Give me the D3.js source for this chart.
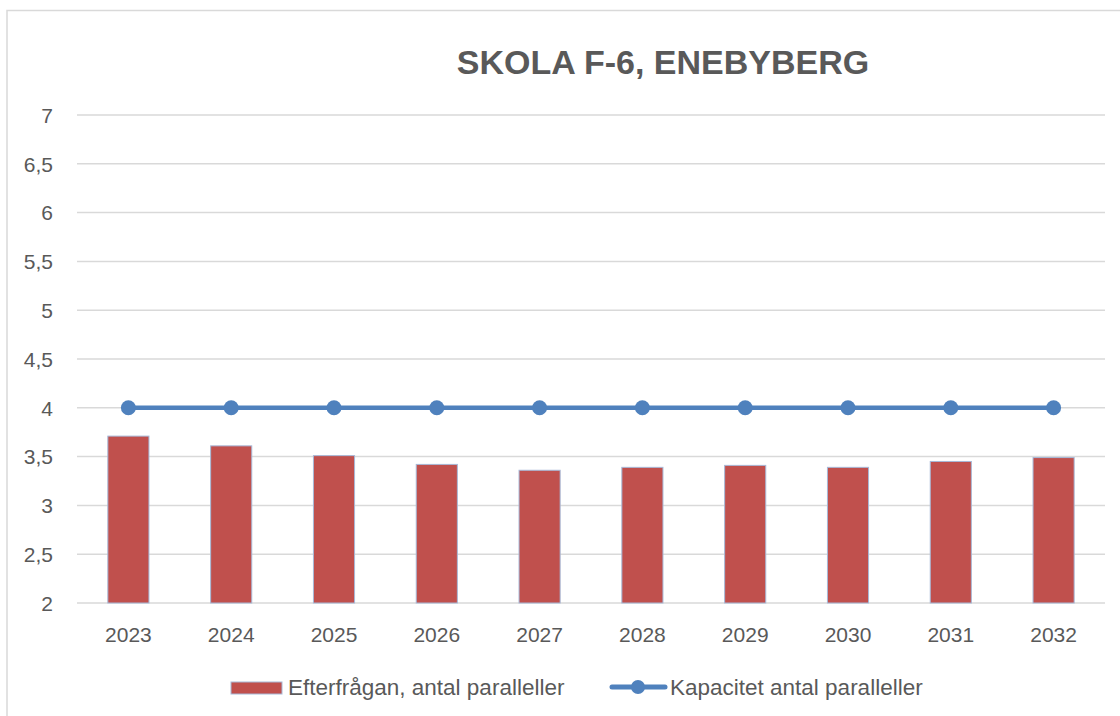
<!DOCTYPE html>
<html>
<head>
<meta charset="utf-8">
<script src="https://cdn.jsdelivr.net/npm/d3@7"></script>
<style>
  body { margin: 0; background: #fff; }
  svg text { font-family: "Liberation Sans", Arial, sans-serif; fill: #595959; }
</style>
</head>
<body>
<div id="chart"></div>
<script>
// data
var years = ["2023", "2024", "2025", "2026", "2027", "2028", "2029", "2030", "2031", "2032"];
var demand = [3.71, 3.61, 3.51, 3.42, 3.36, 3.39, 3.41, 3.39, 3.45, 3.49];
var capacity = [4, 4, 4, 4, 4, 4, 4, 4, 4, 4];
var yTicks = [2, 2.5, 3, 3.5, 4, 4.5, 5, 5.5, 6, 6.5, 7];
var seriesNames = ["Efterfrågan, antal paralleller", "Kapacitet antal paralleller"];
var title = "SKOLA F-6, ENEBYBERG";

var width = 1120, height = 716;
var plotLeft = 77, plotRight = 1105, plotTop = 115, plotBottom = 603;

var svg = d3.select("#chart").append("svg")
    .attr("width", width)
    .attr("height", height);

// frame
svg.append("path")
   .attr("d", "M7,716V10.5H1120")
   .attr("fill", "none")
   .attr("stroke", "#d9d9d9")
   .attr("stroke-width", 1.5);

var x = d3.scaleBand()
          .domain(years)
          .range([plotLeft, plotRight])
          .paddingInner(0.6)
          .paddingOuter(0.3);

var y = d3.scaleLinear()
          .domain([2, 7])
          .range([plotBottom, plotTop]);

// gridlines
svg.append("g").selectAll("line")
   .data(yTicks)
   .enter()
   .append("line")
   .attr("x1", plotLeft).attr("x2", plotRight)
   .attr("y1", function(d) { return y(d); })
   .attr("y2", function(d) { return y(d); })
   .attr("stroke", "#d9d9d9")
   .attr("stroke-width", 1.5);

// y axis labels
var yAxis = d3.axisLeft(y)
              .tickValues(yTicks)
              .tickSize(0)
              .tickPadding(0)
              .tickFormat(function(d) { return String(d).replace(".", ","); });
var gy = svg.append("g").attr("transform", "translate(53,0)").call(yAxis);
gy.select(".domain").remove();
gy.selectAll("text").attr("font-size", 21).attr("dy", "0.35em").attr("fill", "#595959")
  .attr("font-family", "Liberation Sans, Arial, sans-serif");

// x axis labels
var xAxis = d3.axisBottom(x).tickSize(0).tickPadding(0);
var gx = svg.append("g").attr("transform", "translate(0,642)").call(xAxis);
gx.select(".domain").remove();
gx.selectAll("text").attr("font-size", 21).attr("dy", 0).attr("fill", "#595959")
  .attr("font-family", "Liberation Sans, Arial, sans-serif");

// bars
svg.append("g").selectAll("rect")
   .data(demand)
   .enter()
   .append("rect")
   .attr("x", function(d, i) { return x(years[i]); })
   .attr("y", function(d) { return y(d); })
   .attr("width", x.bandwidth())
   .attr("height", function(d) { return y(2) - y(d); })
   .attr("fill", "#c0504d")
   .attr("stroke", "#a7b9d8")
   .attr("stroke-width", 1);

// capacity line
var line = d3.line()
             .x(function(d, i) { return x(years[i]) + x.bandwidth() / 2; })
             .y(function(d) { return y(d); });

svg.append("path")
   .datum(capacity)
   .attr("d", line)
   .attr("fill", "none")
   .attr("stroke", "#4f81bd")
   .attr("stroke-width", 4.5);

svg.append("g").selectAll("circle")
   .data(capacity)
   .enter()
   .append("circle")
   .attr("cx", function(d, i) { return x(years[i]) + x.bandwidth() / 2; })
   .attr("cy", function(d) { return y(d); })
   .attr("r", 7.5)
   .attr("fill", "#4f81bd");

// title
svg.append("text")
   .attr("x", 663)
   .attr("y", 74)
   .attr("text-anchor", "middle")
   .attr("font-size", 34)
   .attr("font-weight", "bold")
   .text(title);

// legend
var legend = svg.append("g");
legend.append("rect")
      .attr("x", 231).attr("y", 682)
      .attr("width", 51).attr("height", 12)
      .attr("fill", "#c0504d")
      .attr("stroke", "#a7b9d8")
      .attr("stroke-width", 1);
legend.append("text")
      .attr("x", 288).attr("y", 695)
      .attr("font-size", 22.5)
      .text(seriesNames[0]);

legend.append("line")
      .attr("x1", 612).attr("x2", 665)
      .attr("y1", 687).attr("y2", 687)
      .attr("stroke", "#4f81bd")
      .attr("stroke-width", 5)
      .attr("stroke-linecap", "round");
legend.append("circle")
      .attr("cx", 638).attr("cy", 687)
      .attr("r", 7)
      .attr("fill", "#4f81bd");
legend.append("text")
      .attr("x", 670).attr("y", 695)
      .attr("font-size", 22.5)
      .text(seriesNames[1]);
</script>
</body>
</html>
